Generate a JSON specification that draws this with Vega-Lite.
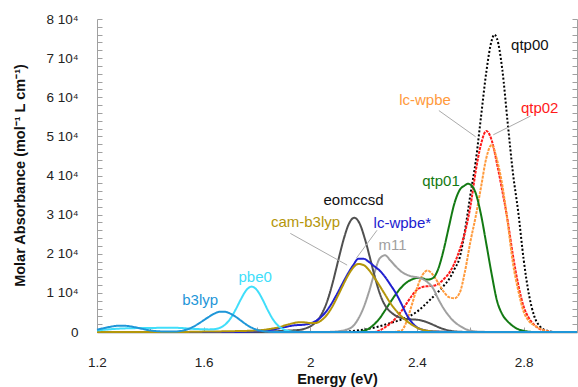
{
  "$schema": "https://vega.github.io/schema/vega-lite/v6.json",
  "width": 480,
  "height": 313,
  "autosize": {"type": "none"},
  "padding": {"left": 97, "top": 19, "right": 1, "bottom": 55},
  "background": "white",
  "config": {
    "view": {"stroke": null},
    "font": "Liberation Sans",
    "axis": {"labelFont": "Liberation Sans", "titleFont": "Liberation Sans", "labelColor": "#222", "titleColor": "#111", "grid": false}
  },
  "resolve": {"axis": {"y": "independent", "x": "shared"}},
  "datasets": {
    "curves": [
      {"s":"qtp00","e":1.2,"a":0},{"s":"qtp00","e":2.1,"a":0},{"s":"qtp00","e":2.15,"a":200},{"s":"qtp00","e":2.2,"a":600},{"s":"qtp00","e":2.25,"a":1300},{"s":"qtp00","e":2.3,"a":2300},{"s":"qtp00","e":2.35,"a":3400},{"s":"qtp00","e":2.4,"a":5200},{"s":"qtp00","e":2.45,"a":8300},{"s":"qtp00","e":2.48,"a":10300},{"s":"qtp00","e":2.5,"a":11800},{"s":"qtp00","e":2.52,"a":13500},{"s":"qtp00","e":2.54,"a":16000},{"s":"qtp00","e":2.56,"a":19000},{"s":"qtp00","e":2.58,"a":26000},{"s":"qtp00","e":2.6,"a":35000},{"s":"qtp00","e":2.62,"a":43500},{"s":"qtp00","e":2.64,"a":55000},{"s":"qtp00","e":2.66,"a":66500},{"s":"qtp00","e":2.68,"a":74500},{"s":"qtp00","e":2.69,"a":76000},{"s":"qtp00","e":2.7,"a":75000},{"s":"qtp00","e":2.72,"a":67000},{"s":"qtp00","e":2.74,"a":53500},{"s":"qtp00","e":2.76,"a":40500},{"s":"qtp00","e":2.78,"a":30500},{"s":"qtp00","e":2.8,"a":18500},{"s":"qtp00","e":2.82,"a":9500},{"s":"qtp00","e":2.84,"a":4000},{"s":"qtp00","e":2.86,"a":1500},{"s":"qtp00","e":2.88,"a":500},{"s":"qtp00","e":2.92,"a":0},{"s":"qtp00","e":3.0,"a":0},

      {"s":"qtp02","e":1.2,"a":0},{"s":"qtp02","e":2.24,"a":0},{"s":"qtp02","e":2.26,"a":400},{"s":"qtp02","e":2.28,"a":1200},{"s":"qtp02","e":2.3,"a":2200},{"s":"qtp02","e":2.32,"a":3500},{"s":"qtp02","e":2.34,"a":5200},{"s":"qtp02","e":2.36,"a":7200},{"s":"qtp02","e":2.38,"a":9200},{"s":"qtp02","e":2.4,"a":10800},{"s":"qtp02","e":2.42,"a":11500},{"s":"qtp02","e":2.44,"a":11700},{"s":"qtp02","e":2.46,"a":11800},{"s":"qtp02","e":2.48,"a":12300},{"s":"qtp02","e":2.5,"a":13500},{"s":"qtp02","e":2.52,"a":15000},{"s":"qtp02","e":2.54,"a":17500},{"s":"qtp02","e":2.56,"a":21000},{"s":"qtp02","e":2.58,"a":25500},{"s":"qtp02","e":2.6,"a":32000},{"s":"qtp02","e":2.62,"a":41000},{"s":"qtp02","e":2.64,"a":48000},{"s":"qtp02","e":2.66,"a":51400},{"s":"qtp02","e":2.68,"a":49000},{"s":"qtp02","e":2.7,"a":43000},{"s":"qtp02","e":2.72,"a":36000},{"s":"qtp02","e":2.74,"a":28500},{"s":"qtp02","e":2.76,"a":19500},{"s":"qtp02","e":2.78,"a":12000},{"s":"qtp02","e":2.8,"a":6500},{"s":"qtp02","e":2.82,"a":3500},{"s":"qtp02","e":2.84,"a":1800},{"s":"qtp02","e":2.86,"a":800},{"s":"qtp02","e":2.88,"a":300},{"s":"qtp02","e":2.92,"a":0},{"s":"qtp02","e":3.0,"a":0},

      {"s":"lc-wpbe","e":1.2,"a":0},{"s":"lc-wpbe","e":2.3,"a":0},{"s":"lc-wpbe","e":2.34,"a":300},{"s":"lc-wpbe","e":2.36,"a":2500},{"s":"lc-wpbe","e":2.38,"a":6800},{"s":"lc-wpbe","e":2.4,"a":11200},{"s":"lc-wpbe","e":2.42,"a":14500},{"s":"lc-wpbe","e":2.44,"a":15700},{"s":"lc-wpbe","e":2.46,"a":14600},{"s":"lc-wpbe","e":2.48,"a":12500},{"s":"lc-wpbe","e":2.5,"a":10300},{"s":"lc-wpbe","e":2.52,"a":8900},{"s":"lc-wpbe","e":2.54,"a":8600},{"s":"lc-wpbe","e":2.56,"a":10000},{"s":"lc-wpbe","e":2.58,"a":15500},{"s":"lc-wpbe","e":2.6,"a":23000},{"s":"lc-wpbe","e":2.62,"a":29500},{"s":"lc-wpbe","e":2.64,"a":37000},{"s":"lc-wpbe","e":2.66,"a":44500},{"s":"lc-wpbe","e":2.68,"a":47800},{"s":"lc-wpbe","e":2.7,"a":44000},{"s":"lc-wpbe","e":2.72,"a":37500},{"s":"lc-wpbe","e":2.74,"a":28000},{"s":"lc-wpbe","e":2.76,"a":17500},{"s":"lc-wpbe","e":2.78,"a":10500},{"s":"lc-wpbe","e":2.8,"a":5200},{"s":"lc-wpbe","e":2.82,"a":2800},{"s":"lc-wpbe","e":2.84,"a":1700},{"s":"lc-wpbe","e":2.86,"a":900},{"s":"lc-wpbe","e":2.88,"a":300},{"s":"lc-wpbe","e":2.92,"a":0},{"s":"lc-wpbe","e":3.0,"a":0},

      {"s":"qtp01","e":1.2,"a":0},{"s":"qtp01","e":2.18,"a":0},{"s":"qtp01","e":2.2,"a":300},{"s":"qtp01","e":2.22,"a":900},{"s":"qtp01","e":2.24,"a":2000},{"s":"qtp01","e":2.26,"a":3500},{"s":"qtp01","e":2.28,"a":5500},{"s":"qtp01","e":2.3,"a":7600},{"s":"qtp01","e":2.32,"a":9600},{"s":"qtp01","e":2.34,"a":11300},{"s":"qtp01","e":2.36,"a":12600},{"s":"qtp01","e":2.38,"a":13400},{"s":"qtp01","e":2.4,"a":13800},{"s":"qtp01","e":2.42,"a":13700},{"s":"qtp01","e":2.44,"a":13400},{"s":"qtp01","e":2.46,"a":13800},{"s":"qtp01","e":2.48,"a":16200},{"s":"qtp01","e":2.5,"a":21000},{"s":"qtp01","e":2.52,"a":27000},{"s":"qtp01","e":2.54,"a":32800},{"s":"qtp01","e":2.56,"a":36300},{"s":"qtp01","e":2.58,"a":37500},{"s":"qtp01","e":2.59,"a":37900},{"s":"qtp01","e":2.6,"a":37700},{"s":"qtp01","e":2.62,"a":35500},{"s":"qtp01","e":2.64,"a":30000},{"s":"qtp01","e":2.66,"a":22500},{"s":"qtp01","e":2.68,"a":14800},{"s":"qtp01","e":2.7,"a":8000},{"s":"qtp01","e":2.72,"a":4500},{"s":"qtp01","e":2.74,"a":2700},{"s":"qtp01","e":2.76,"a":1500},{"s":"qtp01","e":2.78,"a":700},{"s":"qtp01","e":2.8,"a":300},{"s":"qtp01","e":2.84,"a":0},{"s":"qtp01","e":3.0,"a":0},

      {"s":"m11","e":1.2,"a":0},{"s":"m11","e":2.05,"a":0},{"s":"m11","e":2.1,"a":150},{"s":"m11","e":2.13,"a":500},{"s":"m11","e":2.16,"a":1500},{"s":"m11","e":2.18,"a":3400},{"s":"m11","e":2.2,"a":6300},{"s":"m11","e":2.22,"a":10300},{"s":"m11","e":2.24,"a":15000},{"s":"m11","e":2.26,"a":18800},{"s":"m11","e":2.28,"a":19600},{"s":"m11","e":2.3,"a":18300},{"s":"m11","e":2.32,"a":16800},{"s":"m11","e":2.34,"a":15500},{"s":"m11","e":2.36,"a":14700},{"s":"m11","e":2.38,"a":14200},{"s":"m11","e":2.4,"a":14000},{"s":"m11","e":2.42,"a":13600},{"s":"m11","e":2.44,"a":12700},{"s":"m11","e":2.46,"a":11200},{"s":"m11","e":2.48,"a":8400},{"s":"m11","e":2.5,"a":6000},{"s":"m11","e":2.52,"a":4100},{"s":"m11","e":2.54,"a":2600},{"s":"m11","e":2.56,"a":1600},{"s":"m11","e":2.58,"a":800},{"s":"m11","e":2.6,"a":350},{"s":"m11","e":2.64,"a":50},{"s":"m11","e":2.7,"a":0},{"s":"m11","e":3.0,"a":0},

      {"s":"eomccsd","e":1.2,"a":0},{"s":"eomccsd","e":1.8,"a":0},{"s":"eomccsd","e":1.9,"a":300},{"s":"eomccsd","e":1.965,"a":600},{"s":"eomccsd","e":1.985,"a":1000},{"s":"eomccsd","e":2.005,"a":1650},{"s":"eomccsd","e":2.025,"a":2800},{"s":"eomccsd","e":2.045,"a":4900},{"s":"eomccsd","e":2.065,"a":8200},{"s":"eomccsd","e":2.085,"a":12900},{"s":"eomccsd","e":2.105,"a":18400},{"s":"eomccsd","e":2.125,"a":23700},{"s":"eomccsd","e":2.145,"a":27700},{"s":"eomccsd","e":2.165,"a":29200},{"s":"eomccsd","e":2.185,"a":27700},{"s":"eomccsd","e":2.205,"a":23700},{"s":"eomccsd","e":2.225,"a":18600},{"s":"eomccsd","e":2.245,"a":13300},{"s":"eomccsd","e":2.265,"a":9000},{"s":"eomccsd","e":2.285,"a":6300},{"s":"eomccsd","e":2.305,"a":4900},{"s":"eomccsd","e":2.325,"a":4000},{"s":"eomccsd","e":2.345,"a":3500},{"s":"eomccsd","e":2.365,"a":3300},{"s":"eomccsd","e":2.385,"a":3200},{"s":"eomccsd","e":2.405,"a":3100},{"s":"eomccsd","e":2.425,"a":2800},{"s":"eomccsd","e":2.445,"a":2300},{"s":"eomccsd","e":2.465,"a":1700},{"s":"eomccsd","e":2.485,"a":1100},{"s":"eomccsd","e":2.505,"a":650},{"s":"eomccsd","e":2.525,"a":300},{"s":"eomccsd","e":2.55,"a":100},{"s":"eomccsd","e":2.6,"a":0},{"s":"eomccsd","e":3.0,"a":0},

      {"s":"lc-wpbe*","e":1.2,"a":0},{"s":"lc-wpbe*","e":1.7,"a":0},{"s":"lc-wpbe*","e":1.8,"a":200},{"s":"lc-wpbe*","e":1.86,"a":600},{"s":"lc-wpbe*","e":1.9,"a":1200},{"s":"lc-wpbe*","e":1.94,"a":1700},{"s":"lc-wpbe*","e":1.98,"a":1900},{"s":"lc-wpbe*","e":2.0,"a":2200},{"s":"lc-wpbe*","e":2.02,"a":2800},{"s":"lc-wpbe*","e":2.04,"a":3800},{"s":"lc-wpbe*","e":2.06,"a":5300},{"s":"lc-wpbe*","e":2.08,"a":7300},{"s":"lc-wpbe*","e":2.1,"a":9700},{"s":"lc-wpbe*","e":2.12,"a":12300},{"s":"lc-wpbe*","e":2.14,"a":14800},{"s":"lc-wpbe*","e":2.16,"a":17000},{"s":"lc-wpbe*","e":2.18,"a":18700},{"s":"lc-wpbe*","e":2.2,"a":18700},{"s":"lc-wpbe*","e":2.22,"a":17900},{"s":"lc-wpbe*","e":2.24,"a":16800},{"s":"lc-wpbe*","e":2.26,"a":15700},{"s":"lc-wpbe*","e":2.28,"a":14100},{"s":"lc-wpbe*","e":2.3,"a":12100},{"s":"lc-wpbe*","e":2.32,"a":10000},{"s":"lc-wpbe*","e":2.34,"a":7400},{"s":"lc-wpbe*","e":2.36,"a":4600},{"s":"lc-wpbe*","e":2.38,"a":2500},{"s":"lc-wpbe*","e":2.4,"a":1200},{"s":"lc-wpbe*","e":2.42,"a":600},{"s":"lc-wpbe*","e":2.44,"a":300},{"s":"lc-wpbe*","e":2.48,"a":100},{"s":"lc-wpbe*","e":2.55,"a":0},{"s":"lc-wpbe*","e":3.0,"a":0},

      {"s":"cam-b3lyp","e":1.2,"a":0},{"s":"cam-b3lyp","e":1.5,"a":0},{"s":"cam-b3lyp","e":1.6,"a":100},{"s":"cam-b3lyp","e":1.7,"a":200},{"s":"cam-b3lyp","e":1.8,"a":400},{"s":"cam-b3lyp","e":1.84,"a":700},{"s":"cam-b3lyp","e":1.88,"a":1200},{"s":"cam-b3lyp","e":1.92,"a":2000},{"s":"cam-b3lyp","e":1.96,"a":2500},{"s":"cam-b3lyp","e":1.98,"a":2450},{"s":"cam-b3lyp","e":2.0,"a":2300},{"s":"cam-b3lyp","e":2.02,"a":2300},{"s":"cam-b3lyp","e":2.04,"a":2900},{"s":"cam-b3lyp","e":2.06,"a":4200},{"s":"cam-b3lyp","e":2.08,"a":6200},{"s":"cam-b3lyp","e":2.1,"a":8800},{"s":"cam-b3lyp","e":2.12,"a":11600},{"s":"cam-b3lyp","e":2.14,"a":14300},{"s":"cam-b3lyp","e":2.16,"a":16400},{"s":"cam-b3lyp","e":2.18,"a":17400},{"s":"cam-b3lyp","e":2.2,"a":17100},{"s":"cam-b3lyp","e":2.22,"a":15800},{"s":"cam-b3lyp","e":2.24,"a":13900},{"s":"cam-b3lyp","e":2.26,"a":11800},{"s":"cam-b3lyp","e":2.28,"a":9600},{"s":"cam-b3lyp","e":2.3,"a":7400},{"s":"cam-b3lyp","e":2.32,"a":5600},{"s":"cam-b3lyp","e":2.34,"a":4100},{"s":"cam-b3lyp","e":2.36,"a":2900},{"s":"cam-b3lyp","e":2.38,"a":1900},{"s":"cam-b3lyp","e":2.4,"a":1100},{"s":"cam-b3lyp","e":2.42,"a":600},{"s":"cam-b3lyp","e":2.44,"a":300},{"s":"cam-b3lyp","e":2.48,"a":80},{"s":"cam-b3lyp","e":2.55,"a":0},{"s":"cam-b3lyp","e":3.0,"a":0},

      {"s":"pbe0","e":1.2,"a":400},{"s":"pbe0","e":1.24,"a":650},{"s":"pbe0","e":1.28,"a":850},{"s":"pbe0","e":1.32,"a":950},{"s":"pbe0","e":1.36,"a":1000},{"s":"pbe0","e":1.4,"a":1000},{"s":"pbe0","e":1.44,"a":1100},{"s":"pbe0","e":1.48,"a":1100},{"s":"pbe0","e":1.52,"a":1000},{"s":"pbe0","e":1.56,"a":800},{"s":"pbe0","e":1.6,"a":700},{"s":"pbe0","e":1.62,"a":670},{"s":"pbe0","e":1.64,"a":730},{"s":"pbe0","e":1.66,"a":1050},{"s":"pbe0","e":1.68,"a":1870},{"s":"pbe0","e":1.7,"a":3400},{"s":"pbe0","e":1.72,"a":5750},{"s":"pbe0","e":1.74,"a":8420},{"s":"pbe0","e":1.76,"a":10700},{"s":"pbe0","e":1.78,"a":11600},{"s":"pbe0","e":1.8,"a":10700},{"s":"pbe0","e":1.82,"a":8420},{"s":"pbe0","e":1.84,"a":5650},{"s":"pbe0","e":1.86,"a":3220},{"s":"pbe0","e":1.88,"a":1570},{"s":"pbe0","e":1.9,"a":650},{"s":"pbe0","e":1.92,"a":230},{"s":"pbe0","e":1.94,"a":70},{"s":"pbe0","e":1.96,"a":0},{"s":"pbe0","e":3.0,"a":0},

      {"s":"b3lyp","e":1.2,"a":600},{"s":"b3lyp","e":1.22,"a":900},{"s":"b3lyp","e":1.24,"a":1200},{"s":"b3lyp","e":1.26,"a":1450},{"s":"b3lyp","e":1.28,"a":1600},{"s":"b3lyp","e":1.3,"a":1600},{"s":"b3lyp","e":1.32,"a":1500},{"s":"b3lyp","e":1.34,"a":1250},{"s":"b3lyp","e":1.36,"a":950},{"s":"b3lyp","e":1.38,"a":650},{"s":"b3lyp","e":1.4,"a":400},{"s":"b3lyp","e":1.42,"a":250},{"s":"b3lyp","e":1.44,"a":150},{"s":"b3lyp","e":1.46,"a":100},{"s":"b3lyp","e":1.48,"a":100},{"s":"b3lyp","e":1.5,"a":150},{"s":"b3lyp","e":1.52,"a":350},{"s":"b3lyp","e":1.54,"a":700},{"s":"b3lyp","e":1.56,"a":1300},{"s":"b3lyp","e":1.58,"a":2100},{"s":"b3lyp","e":1.6,"a":3000},{"s":"b3lyp","e":1.62,"a":3900},{"s":"b3lyp","e":1.64,"a":4700},{"s":"b3lyp","e":1.66,"a":5150},{"s":"b3lyp","e":1.68,"a":5150},{"s":"b3lyp","e":1.7,"a":4700},{"s":"b3lyp","e":1.72,"a":3900},{"s":"b3lyp","e":1.74,"a":2900},{"s":"b3lyp","e":1.76,"a":1900},{"s":"b3lyp","e":1.78,"a":1100},{"s":"b3lyp","e":1.8,"a":550},{"s":"b3lyp","e":1.82,"a":250},{"s":"b3lyp","e":1.84,"a":100},{"s":"b3lyp","e":1.88,"a":0},{"s":"b3lyp","e":3.0,"a":0}
    ],
    "labels": [
      {"t":"qtp00","e":2.823,"a":73400,"c":"#111111"},
      {"t":"lc-wpbe","e":2.43,"a":59300,"c":"#FF9A3C"},
      {"t":"qtp02","e":2.86,"a":57300,"c":"#FF1A1A"},
      {"t":"qtp01","e":2.49,"a":38600,"c":"#137A13"},
      {"t":"eomccsd","e":2.162,"a":33800,"c":"#111111"},
      {"t":"cam-b3lyp","e":1.982,"a":28100,"c":"#B4960A"},
      {"t":"lc-wpbe*","e":2.345,"a":27900,"c":"#2020D0"},
      {"t":"m11","e":2.308,"a":22300,"c":"#A0A0A0"},
      {"t":"pbe0","e":1.793,"a":14100,"c":"#40DEFA"},
      {"t":"b3lyp","e":1.587,"a":8200,"c":"#1E96D8"}
    ],
    "leaders": [
      {"e":2.482,"a":56600,"e2":2.62,"a2":49900},
      {"e":2.826,"a":55200,"e2":2.686,"a2":50400},
      {"e":1.925,"a":25200,"e2":2.138,"a2":17100},
      {"e":2.25,"a":26000,"e2":2.173,"a2":18900}
    ]
  },
  "layer": [
    {
      "data": {"name": "curves"},
      "mark": {"type": "line", "interpolate": "monotone"},
      "encoding": {
        "x": {
          "field": "e", "type": "quantitative",
          "scale": {"domain": [1.2, 3.0], "nice": false, "zero": false},
          "axis": {
            "orient": "bottom",
            "title": "Energy (eV)",
            "values": [1.2,1.3,1.4,1.5,1.6,1.7,1.8,1.9,2.0,2.1,2.2,2.3,2.4,2.5,2.6,2.7,2.8,2.9,3.0],
            "labelExpr": "round(datum.value*10) % 4 == 0 ? format(datum.value, '~g') : ''",
            "labelFontSize": 13.5, "labelPadding": 28, "labelFlush": false,
            "tickSize": -5, "tickColor": "#A0A0A0", "tickWidth": 1,
            "domainColor": "#707070", "domainWidth": 1.5,
            "titleFontSize": 14.5, "titleFontWeight": "bold",
            "titleY": 40, "titleBaseline": "top"
          }
        },
        "y": {
          "field": "a", "type": "quantitative",
          "scale": {"domain": [0, 80000], "nice": false},
          "axis": {
            "orient": "left",
            "title": "Molar Absorbance (mol⁻¹ L cm⁻¹)",
            "values": [0,2000,4000,6000,8000,10000,12000,14000,16000,18000,20000,22000,24000,26000,28000,30000,32000,34000,36000,38000,40000,42000,44000,46000,48000,50000,52000,54000,56000,58000,60000,62000,64000,66000,68000,70000,72000,74000,76000,78000,80000],
            "labelExpr": "datum.value % 10000 == 0 ? (datum.value == 0 ? '0' : (datum.value/10000) + ' 10⁴') : ''",
            "labelFontSize": 13.5, "labelPadding": 24, "labelFlush": false,
            "tickSize": -5, "tickColor": "#A0A0A0", "tickWidth": 1,
            "domainColor": "#A0A0A0", "domainWidth": 1,
            "titleFontSize": 14.5, "titleFontWeight": "bold",
            "titleX": -77, "titleY": 156, "titleBaseline": "middle", "titleAngle": -90
          }
        },
        "color": {
          "field": "s", "type": "nominal", "legend": null,
          "scale": {
            "domain": ["qtp00","qtp02","lc-wpbe","qtp01","m11","eomccsd","lc-wpbe*","cam-b3lyp","pbe0","b3lyp"],
            "range": ["#000000","#FF1A1A","#FF9A3C","#137A13","#A0A0A0","#505050","#2020D0","#B4960A","#40DEFA","#1E96D8"]
          }
        },
        "strokeDash": {
          "field": "s", "type": "nominal", "legend": null,
          "scale": {
            "domain": ["qtp00","qtp02","lc-wpbe","qtp01","m11","eomccsd","lc-wpbe*","cam-b3lyp","pbe0","b3lyp"],
            "range": [[2,2],[3,1],[3,1],[1,0],[1,0],[1,0],[1,0],[1,0],[1,0],[1,0]]
          }
        },
        "strokeWidth": {
          "field": "s", "type": "nominal", "legend": null,
          "scale": {
            "domain": ["qtp00","qtp02","lc-wpbe","qtp01","m11","eomccsd","lc-wpbe*","cam-b3lyp","pbe0","b3lyp"],
            "range": [2,2,2,2,2,2,2,3,2,2]
          }
        }
      }
    },
    {
      "data": {"name": "leaders"},
      "mark": {"type": "rule", "color": "#AAAAAA", "strokeWidth": 1},
      "encoding": {
        "x": {"field": "e", "type": "quantitative"},
        "y": {"field": "a", "type": "quantitative", "axis": null},
        "x2": {"field": "e2"},
        "y2": {"field": "a2"}
      }
    },
    {
      "data": {"name": "labels"},
      "mark": {"type": "text", "fontSize": 15, "font": "Liberation Sans", "align": "center", "baseline": "middle"},
      "encoding": {
        "x": {"field": "e", "type": "quantitative"},
        "y": {
          "field": "a", "type": "quantitative",
          "axis": {
            "orient": "right", "title": null, "labels": false,
            "values": [0,2000,4000,6000,8000,10000,12000,14000,16000,18000,20000,22000,24000,26000,28000,30000,32000,34000,36000,38000,40000,42000,44000,46000,48000,50000,52000,54000,56000,58000,60000,62000,64000,66000,68000,70000,72000,74000,76000,78000,80000],
            "tickSize": -5, "tickColor": "#A0A0A0", "tickWidth": 1,
            "domainColor": "#A0A0A0", "domainWidth": 1
          }
        },
        "text": {"field": "t"},
        "color": {"field": "c", "type": "nominal", "scale": null}
      }
    }
  ]
}
